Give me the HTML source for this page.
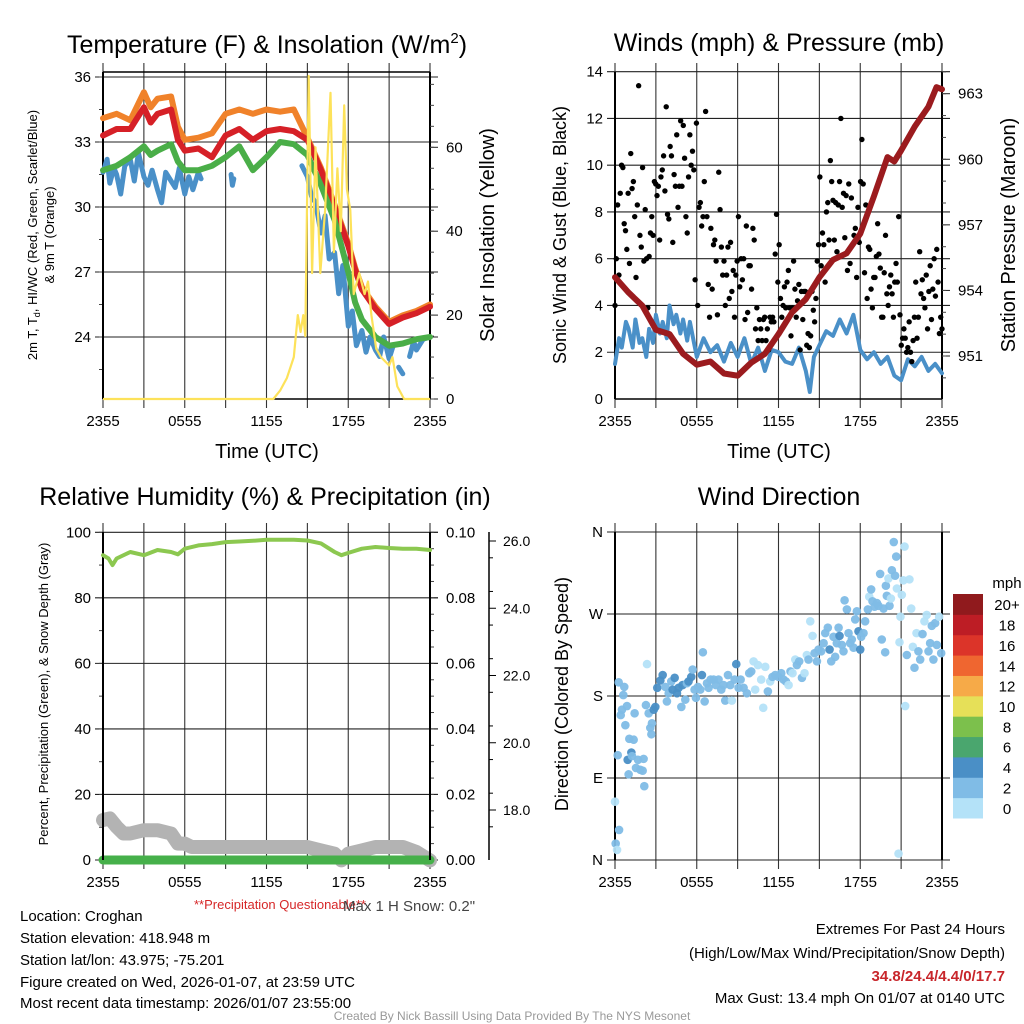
<!DOCTYPE html>
<html><head><meta charset="utf-8"><title>Croghan Meteogram</title>
<style>
html,body{margin:0;padding:0;background:#fff;}
svg{display:block;font-family:"Liberation Sans",Arial,sans-serif;}
</style></head>
<body>
<svg id="chart" width="1024" height="1024" viewBox="0 0 1024 1024" xmlns="http://www.w3.org/2000/svg">
<rect width="1024" height="1024" fill="#fff"/>
<g id="g1"></g>
<g id="g2"></g>
<g id="g3"></g>
<g id="g4"></g>
<g id="txt">
<text x="280" y="909" font-size="13" fill="#d62728" text-anchor="middle">**Precipitation Questionable**</text>
<text x="343" y="911" font-size="15" fill="#444">Max 1 H Snow: 0.2"</text>
<text x="20" y="921" font-size="15">Location: Croghan</text>
<text x="20" y="943" font-size="15">Station elevation: 418.948 m</text>
<text x="20" y="965" font-size="15">Station lat/lon: 43.975; -75.201</text>
<text x="20" y="987" font-size="15">Figure created on Wed, 2026-01-07, at 23:59 UTC</text>
<text x="20" y="1008" font-size="15">Most recent data timestamp: 2026/01/07 23:55:00</text>
<text x="1005" y="934" font-size="15" text-anchor="end">Extremes For Past 24 Hours</text>
<text x="1005" y="958" font-size="15" text-anchor="end">(High/Low/Max Wind/Precipitation/Snow Depth)</text>
<text x="1005" y="981" font-size="15" font-weight="bold" fill="#c8262b" text-anchor="end">34.8/24.4/4.4/0/17.7</text>
<text x="1005" y="1003" font-size="15" text-anchor="end">Max Gust: 13.4 mph On 01/07 at 0140 UTC</text>
<text x="512" y="1020" font-size="12" fill="#999" text-anchor="middle">Created By Nick Bassill Using Data Provided By The NYS Mesonet</text>
</g>
</svg>
<script>
// ---------- DATA ----------
const timeLabels = ["2355","0555","1155","1755","2355"];
const hourGrid = [0,3,6,9,12,15,18,21,24];
// Temperature panel (hours since 2355)
const tempHours = [0,1,2,3,3.5,4,5,5.5,6,7,8,9,10,11,12,13,14,15,16,17,18,18.5,19,20,21,22,23,24];
const tempRed = [33.3,33.6,33.6,34.6,33.9,34.3,34.5,33.1,32.6,32.7,32.3,33.3,33.6,33.1,33.5,33.6,33.5,33.1,31.7,30.0,28.2,27.1,26.2,25.3,24.6,24.9,25.1,25.4];
const tempOrange = [34.1,34.3,34.0,35.3,34.6,35.0,35.1,33.7,33.1,33.2,33.4,34.3,34.5,34.3,34.5,34.4,34.5,33.2,31.8,30.1,28.3,27.2,26.3,25.4,24.7,25.0,25.2,25.5];
const tempGreen = [31.7,31.9,32.3,32.8,32.4,32.6,32.9,32.1,31.7,31.7,31.9,32.3,32.8,31.7,32.3,33.0,32.9,32.4,31.0,29.4,27.0,25.6,24.8,24.0,23.6,23.7,23.9,24.0];
const blueHours = [0,0.3,0.5,0.8,1,1.3,1.6,2,2.3,2.6,3,3.3,3.6,4,4.3,4.6,5,5.3,5.6,6,6.3,6.6,7,7.2,7.4,9.4,9.5,9.6,9.7,14.6,15,15.3,15.6,16,16.3,16.6,17,17.3,17.6,18,18.3,18.6,19,19.3,19.6,20,20.3,20.6,21,21.3,21.5,21.7,22,22.3,22.5,22.8,23,23.5,24];
const tempBlue = [31.6,32.2,31.1,31.8,31.5,30.6,31.9,32.2,31.2,32.5,31.4,31.0,31.7,30.8,30.2,31.6,31.2,30.9,31.8,30.6,31.4,30.8,31.6,31.3,null,31.5,31.0,31.3,null,31.9,31.4,30.5,30.2,28.8,29.6,27.6,27.9,26.0,27.3,24.5,25.2,23.6,24.3,23.3,24.0,23.4,23.1,24.0,23.0,23.6,null,22.6,22.3,null,23.1,23.8,23.4,23.9,24.0];
const insHours = [0,12.5,13,13.5,14,14.3,14.5,14.7,14.85,15.1,15.35,15.6,15.95,16.3,16.7,16.95,17.2,17.45,17.7,17.9,18.15,18.4,18.8,19.2,19.45,19.7,20.05,20.4,21.0,21.25,21.6,22.1,24];
const insValues = [0,0,2,5,10,20,16,20,15,77,30,60,30,45,73,35,55,40,70,50,45,25,30,25,28,20,12,10,8,10,3,0,0];
// Wind panel
const windHours = [0,0.3,0.5,0.8,1,1.3,1.5,1.8,2,2.3,2.5,2.8,3,3.3,3.5,3.8,4,4.3,4.5,4.8,5,5.3,5.5,5.8,6,6.5,7,7.5,8,8.5,9,9.5,10,10.5,11,11.5,12,12.5,13,13.5,14,14.3,14.6,15,15.5,16,16.5,17,17.5,18,18.5,19,19.5,20,20.5,21,21.5,22,22.5,23,23.5,24];
const windValues = [1.5,2.6,2.2,3.3,3.0,2.2,3.4,2.4,2.6,1.8,3.0,2.4,3.6,2.8,3.3,2.6,4.0,3.2,3.6,2.8,3.4,2.5,3.3,2.4,1.8,2.6,2.0,2.3,1.6,2.4,1.8,2.6,1.5,2.2,1.2,2.1,2.0,1.6,1.5,2.2,1.2,0.3,1.8,2.3,2.9,2.7,3.4,2.8,3.6,2.1,1.7,2.0,1.5,1.8,1.0,0.8,1.7,1.4,1.8,1.2,1.5,1.1];
const gustValues = [4.0,6.0,8.3,5.3,8.8,10.0,9.9,7.5,7.2,6.4,8.8,5.8,10.5,9.0,9.3,7.8,5.2,8.3,13.4,7.0,6.5,9.9,5.9,8.1,6.0,3.9,6.1,7.1,7.8,7.0,9.3,9.2,8.7,9.1,6.8,9.5,9.8,10.4,8.9,12.5,7.9,7.7,10.8,10.4,6.7,9.6,9.1,11.3,8.2,9.1,11.9,9.1,11.7,10.3,7.8,7.1,9.5,11.3,10.0,10.6,9.8,5.1,11.8,4.0,8.2,8.4,7.4,7.8,9.3,12.3,7.8,4.9,3.5,7.3,4.7,6.6,6.8,5.9,3.6,9.7,8.1,6.5,5.3,5.9,4.0,5.3,6.5,4.3,6.7,4.6,5.5,3.5,5.3,5.9,7.8,4.8,6.0,5.1,6.0,3.4,7.4,3.7,5.7,5.7,4.7,7.3,6.8,3.0,3.9,2.5,3.4,3.0,2.5,3.4,3.5,2.5,3.0,2.1,3.5,3.3,3.5,3.3,6.2,7.9,5.0,6.6,4.3,3.5,4.0,4.8,3.9,5.0,5.5,3.9,2.7,3.9,5.9,4.7,3.5,4.2,4.9,2.1,4.6,3.4,4.6,4.6,2.3,2.8,2.2,2.7,4.6,3.8,3.3,4.3,5.9,6.6,9.5,5.7,7.1,6.6,5.0,8.0,8.4,6.8,10.2,9.3,8.5,6.8,8.4,6.3,8.3,9.3,12.0,8.2,8.8,6.9,8.7,5.5,9.2,5.8,8.6,6.6,7.0,7.3,5.2,8.2,6.7,9.3,11.1,9.2,5.4,8.3,4.3,6.5,6.4,4.7,3.9,5.2,5.2,6.1,7.5,6.2,5.6,3.5,3.5,5.4,7.0,4.5,4.0,4.8,5.3,4.5,3.5,5.0,5.8,5.0,7.8,3.6,2.3,2.6,3.0,2.6,2.0,2.2,3.3,2.0,1.6,2.5,3.5,5.0,2.6,3.5,6.3,4.5,5.1,4.3,3.9,5.3,3.0,4.6,5.7,3.4,4.7,6.0,4.4,6.4,5.0,2.8,3.5,3.0];
const presHours = [0,1,2,3,4,5,6,7,8,9,10,11,12,13,14,15,16,17,18,19,20,20.5,21,22,23,23.6,24];
const presValues = [954.6,953.9,953.3,952.2,952.0,951.1,950.6,950.75,950.2,950.1,950.7,951.1,952.0,953.0,953.6,954.6,955.4,955.7,956.6,958.3,960.1,959.9,960.4,961.5,962.4,963.3,963.2];
// Humidity panel
const rhHours = [0,0.4,0.7,1,2,3,4,5,5.5,6,7,8,9,10,11,12,13,14,15,16,17,17.5,18,19,20,21,22,23,24];
const rhValues = [93,92,90,92,94,93,94.6,94,93.3,95,96,96.4,97,97.2,97.4,97.7,97.7,97.7,97.5,96.6,94,93,93.7,95,95.5,95.2,95,95,94.6];
const snowHours = [0,0.5,1,1.5,2,3,4,5,5.5,6,6.5,7,8,9,10,11,12,13,14,15,16,17,17.5,18,19,20,21,22,23,24];
const snowDepth = [17.7,17.75,17.5,17.3,17.3,17.4,17.4,17.3,17.0,17.0,16.9,16.9,16.9,16.9,16.9,16.9,16.9,16.9,16.9,16.9,16.8,16.7,16.5,16.7,16.8,16.9,16.9,16.9,16.75,16.5];
const precipHours = [0,24];
const precipValues = [0,0];
// Wind direction panel
const dirHours = [0,0.05,0.15,0.3,0.2,0.27,0.68,0.61,0.51,0.42,0.88,0.76,1.05,1.37,0.93,1.2,1.25,1.54,1.86,2.03,2.1,1.0,1.69,2.15,1.44,2.35,2.27,2.47,2.59,2.67,2.71,2.84,2.96,3.1,3.33,3.5,3.69,3.81,3.94,4.13,4.23,4.38,4.55,4.67,4.87,4.96,5.16,5.28,5.4,5.6,5.7,5.84,5.94,6.09,6.26,6.38,6.45,6.58,6.75,6.87,7.02,7.24,7.41,7.6,7.8,7.97,8.09,8.29,8.46,8.58,8.78,8.9,9.07,9.22,9.44,9.68,9.85,10.0,10.17,10.29,10.49,10.73,10.88,11.03,11.22,11.39,11.56,11.76,12.0,12.2,12.37,12.54,12.74,12.88,13.03,13.23,13.35,13.52,13.72,13.91,14.08,14.2,14.33,14.5,14.65,14.82,14.94,15.13,15.31,15.43,15.62,15.75,15.87,16.04,16.16,16.28,16.41,16.48,16.65,16.77,16.85,17.02,17.14,17.26,17.38,17.51,17.63,17.75,17.87,18.0,18.07,18.24,18.36,18.56,18.66,18.8,18.9,19.05,19.22,19.34,19.46,19.58,19.71,19.83,19.88,19.95,20.07,20.15,20.25,20.32,20.46,20.56,20.64,20.69,20.81,20.88,20.95,21.05,21.17,21.25,21.3,21.42,21.61,21.74,21.86,21.98,22.13,22.27,22.4,22.57,22.71,22.88,23.01,23.13,23.25,23.37,23.5,23.62,23.79,23.94];
const dirDegrees = [64,18,11,33,115,195,190,181,165,159,169,148,133,132,110,118,114,101,99,98,111,94,110,81,161,215,170,161,145,138,150,165,168,189,197,203,190,174,183,196,187,200,183,189,168,192,176,194,196,201,209,187,178,190,187,203,228,174,194,189,198,198,192,198,187,192,175,203,192,175,198,215,189,198,189,183,205,207,218,187,214,198,167,212,185,196,201,203,201,205,198,196,192,207,205,220,214,218,200,205,225,220,262,246,227,218,231,229,238,249,255,231,218,245,223,238,255,246,236,229,285,275,249,238,242,233,264,273,251,231,245,249,262,275,289,297,284,278,282,279,314,242,276,228,301,290,309,279,287,318,349,312,333,298,7,239,267,291,307,344,169,225,308,276,234,211,249,229,220,248,262,269,229,238,257,220,260,236,267,227];
const dirSpeeds = [1,3,1,3,3,3,3,3,3,3,3,3,3,3,5,5,3,3,3,3,3,3,3,3,3,1,3,3,3,3,3,5,5,5,5,5,3,3,3,3,5,5,5,5,3,5,3,3,5,5,3,3,3,3,3,5,3,3,3,3,3,3,3,3,3,3,3,3,3,1,3,5,3,3,3,3,3,3,1,1,1,1,1,1,3,1,3,3,3,3,3,3,1,3,1,1,3,3,3,1,1,3,1,1,3,3,3,3,3,3,3,5,3,3,3,3,3,5,3,3,3,3,3,3,3,3,3,3,5,5,3,3,3,3,1,3,3,3,3,3,3,3,3,3,3,3,1,3,1,3,3,3,3,1,1,1,1,1,1,1,1,3,1,1,1,3,1,3,3,3,1,1,3,3,3,3,3,3,1,3];
const cbLabels = ["0","2","4","6","8","10","12","14","16","18","20+"];
const cbColors = ["#b4e2f8","#80bce6","#4a8fc6","#4aa66e","#7cc04c","#e6e058","#f6aa48","#ef6630","#dc3429","#bd1d25","#901a1d"];

// ---------- HELPERS ----------
const NS="http://www.w3.org/2000/svg";
function mk(parent,tag,attrs,text){const e=document.createElementNS(NS,tag);for(const k in attrs)e.setAttribute(k,attrs[k]);if(text!==undefined)e.textContent=text;parent.appendChild(e);return e;}
function lin(d0,d1,r0,r1){return v=>r0+(v-d0)*(r1-r0)/(d1-d0);}
function pathD(xs,ys,fx,fy){let d="",pen=false;xs.forEach((h,i)=>{const v=ys[i];if(v===null||v===undefined){pen=false;return;}d+=(pen?"L":"M")+fx(h).toFixed(1)+" "+fy(v).toFixed(1)+" ";pen=true;});return d;}

function frame(g,x0,x1,y0,y1,xs,gridY,yTicks,yMinor,fy){
  hourGrid.forEach(h=>{const x=xs(h);const l=mk(g,"line",{x1:x,x2:x,y1:y0-9,y2:y1+9,stroke:"#333","stroke-width":1.1});
    
    });
  gridY.forEach(v=>{const y=fy(v);const l=mk(g,"line",{x1:x0-8,x2:x1+8,y1:y,y2:y,stroke:"#222","stroke-width":1.1});
    
    });
  yMinor.forEach(v=>{const y=fy(v);mk(g,"line",{x1:x0-4,x2:x0,y1:y,y2:y,stroke:"#444"});});
  mk(g,"line",{x1:x0,x2:x0,y1:y0,y2:y1,stroke:"#000","stroke-width":2});
  mk(g,"line",{x1:x1,x2:x1,y1:y0,y2:y1,stroke:"#000","stroke-width":2});
  yTicks.forEach(t=>{const tx=mk(g,"text",{x:x0-12,y:fy(t.v)+5,"font-size":15,"text-anchor":"end"},t.s);
    
    });
  timeLabels.forEach((s,i)=>{const tx=mk(g,"text",{x:xs(i*6),y:y1+27,"font-size":15,"text-anchor":"middle"},s);
    
    });
}
function rightAxis(g,x1,ticks,minor,fy){
  ticks.forEach(t=>{const y=fy(t.v);mk(g,"line",{x1:x1,x2:x1+8,y1:y,y2:y,stroke:"#222"});
    const tx=mk(g,"text",{x:x1+16,y:y+5,"font-size":15},t.s);
    
    });
  minor.forEach(v=>{const y=fy(v);mk(g,"line",{x1:x1,x2:x1+4,y1:y,y2:y,stroke:"#444"});});
}
function title(g,x,y,s,name){const t=mk(g,"text",{x:x,y:y,"font-size":25,"text-anchor":"middle"});t.innerHTML=s;
  
  return t;}
function vlabel(g,x,y,s,size,name){const t=mk(g,"text",{x:x,y:y,"font-size":size,"text-anchor":"middle",transform:`rotate(-90 ${x} ${y})`});t.innerHTML=s;
  
  return t;}
function rng(a,b,s){const r=[];for(let v=a;v<=b+1e-9;v+=s)r.push(+v.toFixed(4));return r;}

// ---------- PANEL 1 ----------
(function(){
  const g=document.getElementById("g1");
  const x0=103,x1=430,y0=72,y1=399;
  const xs=lin(0,24,x0,x1), fy=lin(33,36,142,77), fi=lin(0,60,399,147.3);
  frame(g,x0,x1,y0,y1,xs,[24,27,30,33,36],[24,27,30,33,36].map(v=>({v,s:String(v)})),rng(22.5,36,1.5),fy);
  mk(g,"line",{x1:x0,x2:x1,y1:y0,y2:y0,stroke:"#000","stroke-width":1.5});
  mk(g,"line",{x1:x0,x2:x1,y1:y1,y2:y1,stroke:"#000","stroke-width":1.5});
  rightAxis(g,x1,[0,20,40,60].map(v=>({v,s:String(v)})),rng(0,75,5),fi);
  const series=[["orange-9m-temp-line",tempHours,tempOrange,"#f0822a"],["red-2m-temp-line",tempHours,tempRed,"#d62027"],["green-dewpoint-line",tempHours,tempGreen,"#4aae48"]];
  const bl=mk(g,"path",{d:pathD(blueHours,tempBlue,xs,fy),fill:"none",stroke:"#4a90c8","stroke-width":5,"stroke-linejoin":"round","stroke-linecap":"round"});
  
  
  series.forEach(s=>{const p=mk(g,"path",{d:pathD(s[1],s[2],xs,fy),fill:"none",stroke:s[3],"stroke-width":6,"stroke-linejoin":"round","stroke-linecap":"round"});
    
    });
  const yl=mk(g,"path",{d:pathD(insHours,insValues,xs,fi),fill:"none",stroke:"#fde25a","stroke-width":2.2,"stroke-linejoin":"round"});
  
  
  title(g,267,53,'Temperature (F) &amp; Insolation (W/m<tspan font-size="15" dy="-10">2</tspan><tspan dy="10">)</tspan>','temperature-title');
  vlabel(g,37,235,'2m T, T<tspan font-size="9" dy="3">d</tspan><tspan dy="-3">, HI/WC (Red, Green, Scarlet/Blue)</tspan>',13,'temperature-y-title');
  vlabel(g,54,235,'&amp; 9m T (Orange)',13,'temperature-y-title-2');
  vlabel(g,494,235,'Solar Insolation (Yellow)',20,'insolation-y-title');
  const xt=mk(g,"text",{x:267,y:458,"font-size":20,"text-anchor":"middle"},"Time (UTC)");
  
  
})();

// ---------- PANEL 2 ----------
(function(){
  const g=document.getElementById("g2");
  const x0=615,x1=942,y0=72,y1=399;
  const xs=lin(0,24,x0,x1), fy=lin(0,14,399,71.7), fp=lin(951,963,356,93.7);
  frame(g,x0,x1,y0,y1,xs,[2,4,6,8,10,12,14],[0,2,4,6,8,10,12,14].map(v=>({v,s:String(v)})),[],fy);
  mk(g,"line",{x1:x0,x2:x1,y1:y1,y2:y1,stroke:"#000","stroke-width":1.5});
  rightAxis(g,x1,[951,954,957,960,963].map(v=>({v,s:String(v)})),rng(950,964,1),fp);
  const bl=mk(g,"path",{d:pathD(windHours,windValues,xs,fy),fill:"none",stroke:"#4a90c8","stroke-width":4,"stroke-linejoin":"round","stroke-linecap":"round"});
  
  
  gustValues.forEach((v,i)=>{const h=i*24/(gustValues.length-1);
    const c=mk(g,"circle",{cx:xs(h),cy:fy(v),r:2.7,fill:"#000"});
    
    });
  const pl=mk(g,"path",{d:pathD(presHours,presValues,xs,fp),fill:"none",stroke:"#9b1b1e","stroke-width":6,"stroke-linejoin":"round","stroke-linecap":"round"});
  
  
  title(g,779,51,'Winds (mph) &amp; Pressure (mb)','wind-title');
  vlabel(g,566,235,'Sonic Wind &amp; Gust (Blue, Black)',18,'wind-y-title');
  vlabel(g,1015,235,'Station Pressure (Maroon)',20,'pressure-y-title');
  const xt=mk(g,"text",{x:779,y:458,"font-size":20,"text-anchor":"middle"},"Time (UTC)");
  
  
})();

// ---------- PANEL 3 ----------
(function(){
  const g=document.getElementById("g3");
  const x0=103,x1=430,y0=532,y1=860;
  const xs=lin(0,24,x0,x1), fy=lin(0,100,860,532.3), fs=lin(18,26,810,541), fpr=lin(0,0.1,860,532.3);
  frame(g,x0,x1,y0,y1,xs,[0,20,40,60,80,100],[0,20,40,60,80,100].map(v=>({v,s:String(v)})),rng(0,100,10),fy);
  rightAxis(g,x1,[0,0.02,0.04,0.06,0.08,0.10].map(v=>({v,s:v.toFixed(2)})),rng(0,0.1,0.005),fpr);
  mk(g,"line",{x1:489,x2:489,y1:532,y2:860,stroke:"#000","stroke-width":1.5});
  [18,20,22,24,26].forEach(v=>{const y=fs(v);mk(g,"line",{x1:489,x2:496,y1:y,y2:y,stroke:"#000"});
    const t=mk(g,"text",{x:503,y:y+5,"font-size":14},v.toFixed(1));
    
    });
  rng(16.5,26,1).forEach(v=>{const y=fs(v);if(y>=532&&y<=860)mk(g,"line",{x1:489,x2:493,y1:y,y2:y,stroke:"#000"});});
  const sp=mk(g,"path",{d:pathD(snowHours,snowDepth,xs,fs),fill:"none",stroke:"#b3b3b3","stroke-width":14,"stroke-linejoin":"round","stroke-linecap":"round"});
  
  
  const pp=mk(g,"path",{d:pathD(precipHours,precipValues,xs,fpr),fill:"none",stroke:"#46b04a","stroke-width":9,"stroke-linecap":"round"});
  
  
  mk(g,"line",{x1:x0,x2:x0,y1:y0,y2:y1,stroke:"#000","stroke-width":2});
  mk(g,"line",{x1:x1,x2:x1,y1:y0,y2:y1,stroke:"#000","stroke-width":2});
  const rl=mk(g,"path",{d:pathD(rhHours,rhValues,xs,fy),fill:"none",stroke:"#8cc850","stroke-width":4,"stroke-linejoin":"round","stroke-linecap":"round"});
  
  
  title(g,265,505,'Relative Humidity (%) &amp; Precipitation (in)','humidity-title');
  vlabel(g,48,694,'Percent, Precipitation (Green), &amp; Snow Depth (Gray)',13,'humidity-y-title');
})();

// ---------- PANEL 4 ----------
(function(){
  const g=document.getElementById("g4");
  const x0=615,x1=942,y0=532,y1=860;
  const xs=lin(0,24,x0,x1), fd=lin(0,360,860,532);
  frame(g,x0,x1,y0,y1,xs,[0,90,180,270,360],[{v:0,s:"N"},{v:90,s:"E"},{v:180,s:"S"},{v:270,s:"W"},{v:360,s:"N"}],[],fd);
  function colorFor(s){let i=Math.floor(s/2);if(i>10)i=10;if(i<0)i=0;return cbColors[i];}
  dirDegrees.forEach((d,i)=>{const c=mk(g,"circle",{cx:xs(dirHours[i]),cy:fd(d),r:4.3,fill:colorFor(dirSpeeds[i]),"fill-opacity":0.95});
    
    });
  title(g,779,505,'Wind Direction','direction-title');
  vlabel(g,568,694,'Direction (Colored By Speed)',18,'direction-y-title');
  const cb=mk(g,"g",{});
  
  
  const top=594,bot=818,bh=(bot-top)/cbColors.length;
  cbColors.forEach((c,i)=>{const y=bot-(i+1)*bh;
    const r=mk(cb,"rect",{x:953,y:y,width:30,height:bh+0.5,fill:c});
    
    
    const t=mk(cb,"text",{x:1007,y:y+bh/2+6,"font-size":15,"text-anchor":"middle"},cbLabels[i]);
    
    });
  const u=mk(cb,"text",{x:1007,y:588,"font-size":15,"text-anchor":"middle"},"mph");
  
  
})();
</script>
</body></html>
